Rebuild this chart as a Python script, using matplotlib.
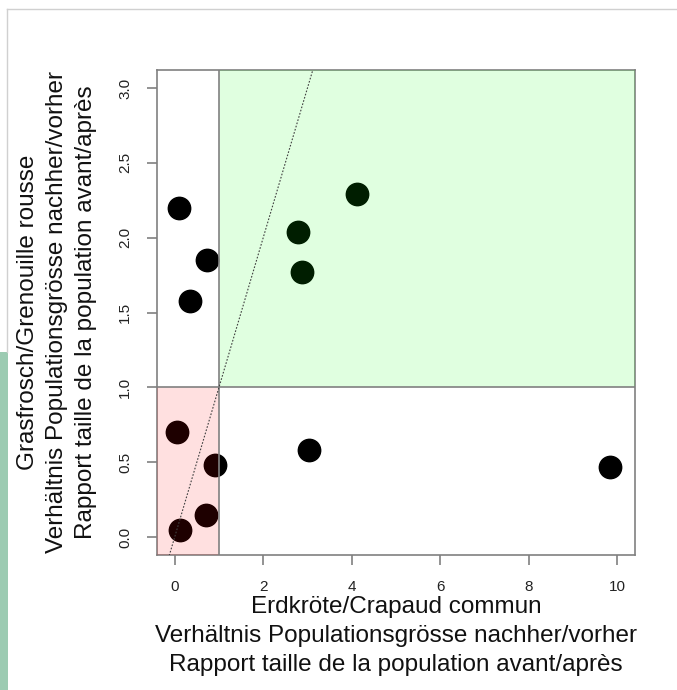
import numpy as np
import matplotlib.pyplot as plt
from matplotlib.patches import Rectangle
from matplotlib.lines import Line2D

plt.rcParams['font.family'] = ['Liberation Sans', 'DejaVu Sans']

# Verhältnis Erdkröte (x) / Grasfrosch (y)
erdkroete = [0.09, 0.72, 0.34, 2.79, 2.88, 4.12, 0.05, 0.92, 0.70, 0.11, 3.04, 9.84]
grasfrosch = [2.20, 1.85, 1.58, 2.04, 1.77, 2.29, 0.70, 0.48, 0.15, 0.05, 0.58, 0.47]

x_ticks = [0, 2, 4, 6, 8, 10]
y_ticks = [0.0, 0.5, 1.0, 1.5, 2.0, 2.5, 3.0]

fig = plt.figure(figsize=(6.77, 6.90), dpi=100)
ax = fig.add_axes([157/677, 1-555/690, (635-157)/677, (555-70)/690])

ax.set_xlim(-0.4, 10.4)
ax.set_ylim(-0.12, 3.12)

# points d'abord, les zones colorées par-dessus (transparentes)
ax.scatter(erdkroete, grasfrosch, s=260, color='black', zorder=2)
ax.add_patch(Rectangle((1, 1), 20, 5, facecolor='#00ff00', alpha=0.12, edgecolor='none', zorder=3))
ax.add_patch(Rectangle((-1, -1), 2, 2, facecolor='#ff0000', alpha=0.12, edgecolor='none', zorder=3))
ax.axvline(1, color='#808080', lw=1.2, zorder=4)
ax.axhline(1, color='#808080', lw=1.2, zorder=4)
ax.plot([-1, 4], [-1, 4], color='#404040', lw=0.8, linestyle=(0, (1.5, 1.5)), zorder=4)

for s in ax.spines.values():
    s.set_color('#808080')
    s.set_linewidth(1.2)

ax.set_xticks(x_ticks)
ax.set_xticklabels([str(t) for t in x_ticks])
ax.set_yticks(y_ticks)
ax.set_yticklabels(['%.1f' % t for t in y_ticks], rotation=90, va='center')
ax.tick_params(axis='both', colors='#808080', labelcolor='#222222', labelsize=11, length=7, width=1.2, pad=11)

xlab = 'Erdkröte/Crapaud commun\nVerhältnis Populationsgrösse nachher/vorher\nRapport taille de la population avant/après'
ylab = 'Grasfrosch/Grenouille rousse\nVerhältnis Populationsgrösse nachher/vorher\nRapport taille de la population avant/après'
fig.text(396/677, 1-636/690, xlab, fontsize=17.5, color='#111111', ha='center', va='center',
         linespacing=1.43, multialignment='center')
fig.text(57/677, 1-312/690, ylab, fontsize=17.5, color='#111111', ha='center', va='center',
         rotation=90, linespacing=1.43, multialignment='center')

# décor de la diapositive
fig.add_artist(Line2D([7/677, 1], [1-9/690, 1-9/690], color='#d0d0d0', lw=1))
fig.add_artist(Line2D([7/677, 7/677], [1-9/690, 1-352/690], color='#d0d0d0', lw=1))
fig.add_artist(Rectangle((0, 0), 8/677, 1-352/690, facecolor='#9ccbb2', edgecolor='none'))

fig.savefig('out.png', dpi=100)
